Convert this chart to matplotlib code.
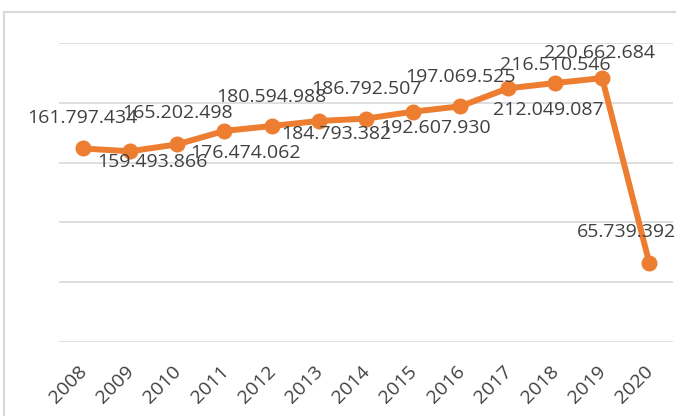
import matplotlib.pyplot as plt
import matplotlib.transforms as mtransforms
from matplotlib.patches import Rectangle

years = ["2008", "2009", "2010", "2011", "2012", "2013", "2014",
         "2015", "2016", "2017", "2018", "2019", "2020"]
values = [161797434, 159493866, 165202498, 176474062, 180594988, 184793382,
          186792507, 192607930, 197069525, 212049087, 216510546, 220662684,
          65739392]
# label offsets in pixels (dx, dy) relative to each point
label_offsets = [(0, 30), (23, -11), (0, 31), (21, -22), (0, 29), (18, -13),
                 (0, 30), (22, -16), (0, 29), (41, -22), (0, 18), (-3, 25),
                 (-23, 31)]

plt.rcParams['font.family'] = ['Open Sans', 'DejaVu Sans']

W, H = 676, 416
fig = plt.figure(figsize=(W / 100, H / 100), dpi=100)

# outer chart border (right and bottom run off the picture)
fig.patches.append(Rectangle((4 / W, -0.05), 1.0, (H - 12) / H + 0.05,
                             transform=fig.transFigure, fill=False,
                             edgecolor="#d9d9d9", linewidth=1.5))

ax = fig.add_axes([59 / W, (H - 342) / H, (673 - 59) / W, (342 - 43) / H])

x = list(range(len(years)))
scaled = [v / 1e6 for v in values]

ax.set_xlim(-0.5, len(years) - 0.5)
ax.set_ylim(0, 250)
ax.set_yticks([0, 50, 100, 150, 200, 250])
ax.yaxis.grid(True, color="#d9d9d9", linewidth=1.2)
ax.set_axisbelow(True)
ax.tick_params(axis="y", left=False, labelleft=False)
ax.tick_params(axis="x", bottom=False, pad=11)
for s in ax.spines.values():
    s.set_visible(False)

ax.plot(x, scaled, color="#ED7D31", linewidth=4.3, marker="o",
        markersize=10.5, solid_capstyle="round", zorder=3)

ax.set_xticks(x)
ax.set_xticklabels(years, rotation=45, ha="right", va="top",
                   rotation_mode="anchor", fontsize=14, color="#404040")
shift = mtransforms.ScaledTranslation(-5 / 100, 0, fig.dpi_scale_trans)
for lbl in ax.get_xticklabels():
    lbl.set_transform(lbl.get_transform() + shift)

for xi, yi, v, (dx, dy) in zip(x, scaled, values, label_offsets):
    txt = f"{v:,}".replace(",", ".")
    ax.annotate(txt, (xi, yi), xytext=(dx * 0.72, dy * 0.72),
                textcoords="offset points", ha="center", va="center",
                fontsize=14, color="#404040", zorder=4)

fig.savefig("out.png", dpi=100)
